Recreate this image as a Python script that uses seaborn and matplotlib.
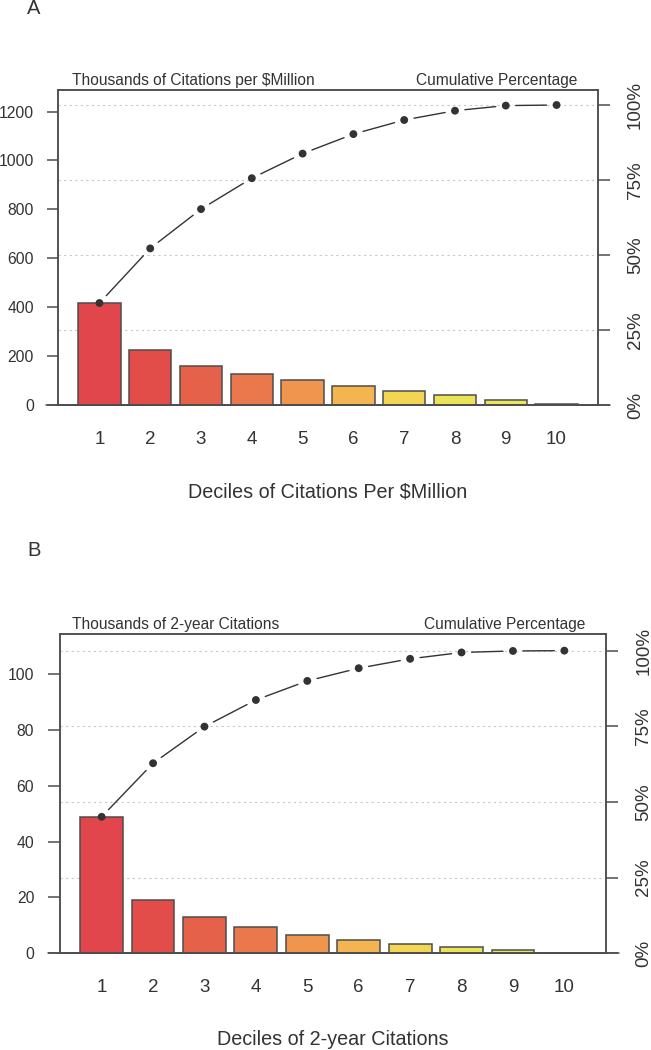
import numpy as np
import matplotlib
matplotlib.use("Agg")
import matplotlib.pyplot as plt
import matplotlib.transforms as mtransforms
import seaborn as sns

# deciles and bar fills (red -> yellow)
deciles = ["1", "2", "3", "4", "5", "6", "7", "8", "9", "10"]
bar_colors = ["#E0464B", "#E24D49", "#E6614A", "#EB784C", "#F0954E",
              "#F4B550", "#F2D653", "#ECE458", "#EAE65A", "#E8E85C"]

# panel A: thousands of citations per $million
cites_per_million = [417, 223, 161, 127, 101, 78, 58.5, 39, 20, 2.5]
cum_pct_per_million = [34.0, 52.2, 65.3, 75.6, 83.8, 90.3, 95.0, 98.1, 99.8, 100.0]
left_ticks_a = [0, 200, 400, 600, 800, 1000, 1200]

# panel B: thousands of 2-year citations
cites_2yr = [48.9, 19.1, 13.1, 9.5, 6.7, 4.8, 3.3, 2.1, 1.1, 0.2]
cum_pct_2yr = [45.1, 62.8, 74.9, 83.7, 90.0, 94.2, 97.3, 99.4, 99.9, 100.0]
left_ticks_b = [0, 20, 40, 60, 80, 100]

pct_ticks = [0, 25, 50, 75, 100]
pct_labels = ["0%", "25%", "50%", "75%", "100%"]

sns.set_style("ticks")
plt.rcParams["font.family"] = ["Liberation Sans", "DejaVu Sans"]

ink = "#333333"
frame = "#4d4d4d"
W, H = 651, 1050

fig = plt.figure(figsize=(W / 100, H / 100), dpi=100)


def gapped_line(ax, xs, ys, gap_px=10, **kw):
    # type="b" style: segments stop short of each point
    pts = ax.transData.transform(np.column_stack([xs, ys]))
    inv = ax.transData.inverted()
    for p, q in zip(pts[:-1], pts[1:]):
        d = q - p
        L = np.hypot(*d)
        if L <= 2 * gap_px:
            continue
        u = d / L
        a = inv.transform(p + u * gap_px)
        b = inv.transform(q - u * gap_px)
        ax.plot([a[0], b[0]], [a[1], b[1]], **kw)


def draw_panel(box, values, cum_pct, left_ticks, ytop, pct_top, title, xlabel,
               letter, letter_y, xlab_base, ltick_len, rpad):
    x0, y0, x1, y1 = box  # pixel box: left, top, right, bottom
    ax = fig.add_axes([x0 / W, 1 - y1 / H, (x1 - x0) / W, (y1 - y0) / H])
    ax2 = ax.twinx()

    sns.barplot(x=deciles, y=values, hue=deciles, palette=bar_colors, legend=False,
                width=0.833, saturation=1, edgecolor=frame, linewidth=1.1,
                ax=ax, zorder=2)
    ax.set_xlim(-0.81, 9.81)
    ax.set_ylim(0, ytop)
    ax2.set_ylim(0, pct_top)

    # dotted guides at the percentage ticks, behind the bars
    blend = mtransforms.blended_transform_factory(ax.transAxes, ax2.transData)
    for v in pct_ticks[1:]:
        ax.plot([0, 1], [v, v], transform=blend, color="#c8c8c8", lw=0.8,
                ls=(0, (2, 3)), zorder=0.5)

    # baseline running a little past the frame
    ax.plot([-0.022, 1.023], [0, 0], transform=ax.get_yaxis_transform(),
            clip_on=False, color=frame, lw=1.1, zorder=3)

    xs = np.arange(len(deciles))
    gapped_line(ax2, xs, cum_pct, gap_px=10, color=ink, lw=1.0, zorder=3)
    sns.scatterplot(x=xs, y=cum_pct, ax=ax2, color=ink, s=32, edgecolor="none",
                    zorder=4, legend=False)

    for a in (ax, ax2):
        for sp in a.spines.values():
            sp.set_color(frame)
            sp.set_linewidth(1.1)

    ax.set_yticks(left_ticks)
    ax.tick_params(axis="y", length=ltick_len, width=1.1, color=frame, pad=9.5,
                   labelsize=11.3, labelcolor=ink)
    ax.tick_params(axis="x", length=0, pad=18.5, labelsize=13.5, labelcolor=ink)
    ax.set_xlabel("")
    ax.set_ylabel("")

    ax2.set_yticks(pct_ticks)
    ax2.set_yticklabels(pct_labels, rotation=90, va="center")
    ax2.tick_params(axis="y", length=8.6, width=1.1, color=frame, pad=rpad,
                    labelsize=13.5, labelcolor=ink)
    ax2.set_ylabel("")

    hpx = y1 - y0
    wpx = x1 - x0
    ax.text((71.7 - x0) / wpx, (y1 - (y0 - 4.5)) / hpx, title, transform=ax.transAxes,
            ha="left", va="baseline", fontsize=11.2, color=ink)
    ax.text(0.963, (y1 - (y0 - 4.5)) / hpx, "Cumulative Percentage", transform=ax.transAxes,
            ha="right", va="baseline", fontsize=11.2, color=ink)
    ax.text(0.5, (y1 - xlab_base) / hpx, xlabel, transform=ax.transAxes,
            ha="center", va="baseline", fontsize=14.2, color=ink)
    fig.text(34 / W, 1 - letter_y / H, letter, ha="center", va="center",
             fontsize=14.5, color=ink)


draw_panel((58.3, 90, 597.7, 405), cites_per_million, cum_pct_per_million,
           left_ticks_a, 1288, 105, "Thousands of Citations per $Million",
           "Deciles of Citations Per $Million", "A", 8.5, 497.3, 8, 12.5)
draw_panel((60, 634, 606, 953.3), cites_2yr, cum_pct_2yr,
           left_ticks_b, 114.3, 105.5, "Thousands of 2-year Citations",
           "Deciles of 2-year Citations", "B", 551, 1045, 9, 12.5)

fig.savefig("out.png", dpi=100)
